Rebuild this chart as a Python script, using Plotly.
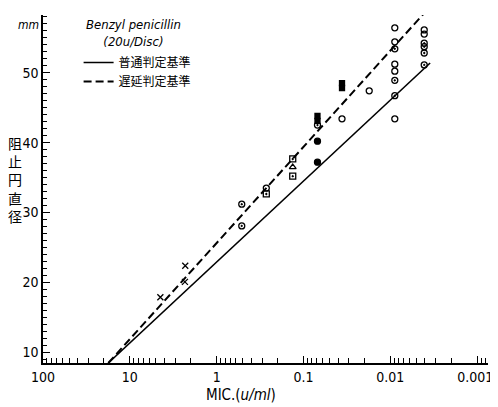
import plotly.graph_objects as go

# ---- data (MIC in u/ml, zone diameter in mm) ----
open_circle_mic = [0.268, 0.036, 0.0175, 0.00888, 0.00888, 0.00888, 0.00888, 0.00888, 0.00407, 0.00407]
open_circle_mm = [33.5, 43.4, 47.4, 56.4, 54.4, 51.2, 50.2, 43.4, 56.1, 55.5]

dot_circle_mic = [0.514, 0.514, 0.069, 0.00888, 0.00888, 0.00888, 0.00407, 0.00407, 0.00407, 0.00407]
dot_circle_mm = [31.2, 28.1, 42.5, 53.4, 48.9, 46.7, 54.2, 53.7, 52.8, 51.1]

filled_circle_mic = [0.069, 0.069]
filled_circle_mm = [40.2, 37.2]

filled_square_mic = [0.069, 0.069, 0.036, 0.036, 0.00407]
filled_square_mm = [43.8, 43.1, 48.5, 47.8, 58.66]

dot_square_mic = [0.268, 0.133, 0.133]
dot_square_mm = [32.66, 37.66, 35.2]

triangle_mic = [0.133]
triangle_mm = [36.5]

cross_mic = [4.45, 2.32, 2.30]
cross_mm = [17.9, 20.1, 22.4]

normal_line_mic = [17.7, 0.00348]
normal_line_mm = [8.51, 51.37]
delayed_line_mic = [17.7, 0.00396]
delayed_line_mm = [8.51, 58.66]

x_tickvals = [100, 10, 1, 0.1, 0.01, 0.001]
x_ticktext = ["100", "10", "1", "0.1", "0.01", "0.001&nbsp;"]
y_tickvals = [10, 20, 30, 40, 50]
x_decades = [100, 10, 1, 0.1, 0.01, 0.001]
x_minor = [d * k / 10 for d in x_decades for k in range(2, 10)]

legend_title = "<i>Benzyl penicillin<br>(20u/Disc)</i>"
normal_name = "普通判定基準"
delayed_name = "遅延判定基準"

FONT = "DejaVu Sans Condensed, Liberation Sans, sans-serif"
CJK = "Noto Sans CJK JP, sans-serif"

fig = go.Figure()

fig.add_trace(go.Scatter(x=normal_line_mic, y=normal_line_mm, mode="lines",
                         name=normal_name, line=dict(color="black", width=1.6)))
fig.add_trace(go.Scatter(x=delayed_line_mic, y=delayed_line_mm, mode="lines",
                         name=delayed_name, line=dict(color="black", width=2, dash="8px,4px")))


def pts(x, y, symbol, size=6):
    fig.add_trace(go.Scatter(x=x, y=y, mode="markers", showlegend=False, cliponaxis=False,
                             marker=dict(symbol=symbol, size=size, color="black",
                                         line=dict(color="black", width=1.3))))


pts(open_circle_mic, open_circle_mm, "circle-open")
pts(dot_circle_mic, dot_circle_mm, "circle-open-dot")
pts(filled_circle_mic, filled_circle_mm, "circle")
pts(filled_square_mic, filled_square_mm, "square", 5)
pts(dot_square_mic, dot_square_mm, "square-open-dot")
pts(triangle_mic, triangle_mm, "triangle-up-open")
pts(cross_mic, cross_mm, "x-thin-open", 6)

fig.update_xaxes(type="log", range=[2.0, -3.125], tickvals=x_tickvals, ticktext=x_ticktext,
                 showline=True, linecolor="black", linewidth=1.5, ticks="inside", ticklen=7,
                 tickwidth=1.2, tickcolor="black", showgrid=False, zeroline=False, mirror=False,
                 ticklabeloverflow="allow",
                 tickfont=dict(family=FONT, size=14, color="black"),
                 minor=dict(tickmode="array", tickvals=x_minor, ticks="inside", ticklen=5,
                            tickwidth=1, tickcolor="black", showgrid=False))
fig.update_yaxes(range=[8.51, 58.23], tickvals=y_tickvals,
                 showline=True, linecolor="black", linewidth=1.5, ticks="inside", ticklen=7,
                 tickwidth=1.2, tickcolor="black", showgrid=False, zeroline=False,
                 tickfont=dict(family=FONT, size=14, color="black"),
                 minor=dict(tickmode="linear", tick0=0, dtick=1, ticks="inside", ticklen=4,
                            tickwidth=1, tickcolor="black", showgrid=False))

fig.add_annotation(text="<i>mm</i>", xref="paper", yref="y", x=0, y=56.8, xanchor="right",
                   xshift=-2, showarrow=False, font=dict(family=FONT, size=12, color="black"))
fig.add_annotation(text="阻<br>止<br>円<br>直<br>径", xref="paper", yref="paper", x=-0.062, y=0.526,
                   xanchor="center", yanchor="middle",
                   showarrow=False, font=dict(family=CJK, size=14, color="black"))
fig.add_annotation(text="MIC.(<i>u/ml</i>)", xref="paper", yref="paper", x=0.446, y=0, yshift=-21,
                   yanchor="top", showarrow=False, font=dict(family=FONT, size=15, color="black"))
fig.add_annotation(text=legend_title, xref="paper", yref="paper", x=0.2026, y=0.947,
                   xanchor="center", yanchor="middle", align="center", showarrow=False,
                   font=dict(family=FONT, size=13, color="black"))

# page body has an 8px margin, so the figure is sized to fit the 498x407 window
fig.update_layout(
    width=490, height=399,
    margin=dict(l=35, r=1, t=7, b=44),
    paper_bgcolor="white", plot_bgcolor="white",
    showlegend=True,
    legend=dict(x=0.08, y=0.905, xanchor="left", yanchor="top",
                bgcolor="rgba(0,0,0,0)", font=dict(family=CJK, size=12, color="black"),
                itemwidth=30, tracegroupgap=0),
)

fig.write_html("out.html")
